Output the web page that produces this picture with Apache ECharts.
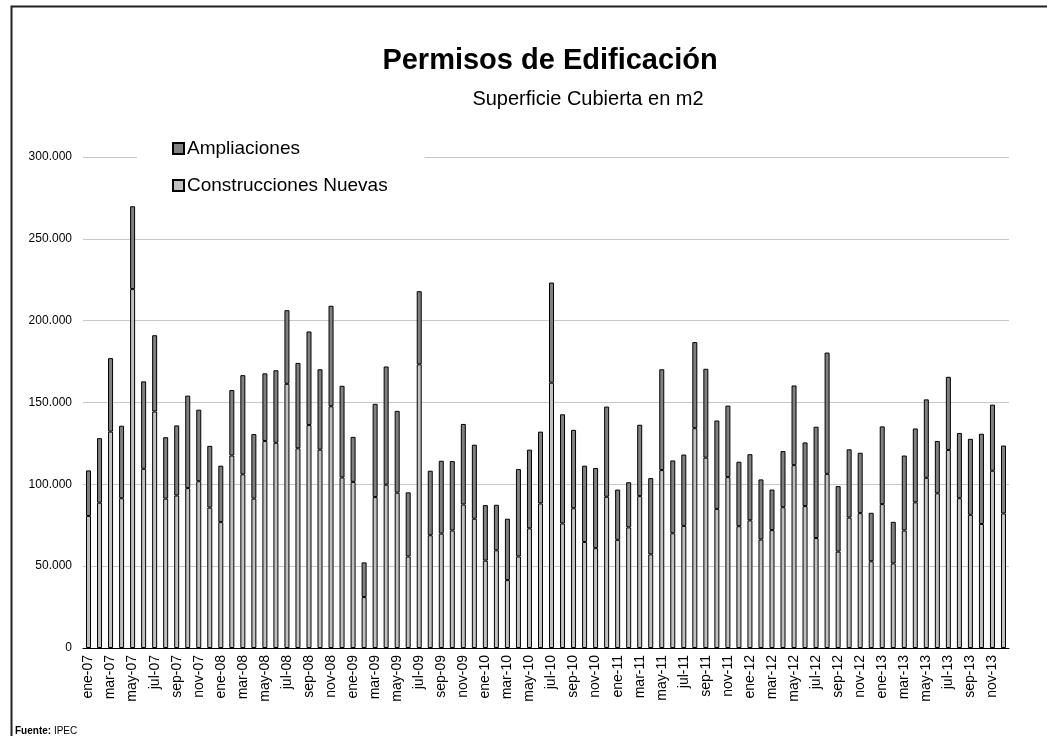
<!DOCTYPE html>
<html>
<head>
<meta charset="utf-8">
<script src="https://cdn.jsdelivr.net/npm/echarts@6/dist/echarts.min.js"></script>
<style>
  html, body { margin: 0; padding: 0; background: #fff; }
  #chart { width: 1047px; height: 736px; }
</style>
</head>
<body>
<div id="chart"></div>
<script>
// meses ene-07 .. dic-13
const meses = ['ene', 'feb', 'mar', 'abr', 'may', 'jun', 'jul', 'ago', 'sep', 'oct', 'nov', 'dic'];
const anios = ['07', '08', '09', '10', '11', '12', '13'];
const categorias = [];
anios.forEach(a => meses.forEach(m => categorias.push(m + '-' + a)));

// Construcciones Nuevas (m2)
const nuevas = [
  80700, 88800, 132200, 91500, 219300, 109500, 144500, 91300, 93200, 97700, 101900, 85800,
  76900, 117600, 106100, 91300, 126500, 125400, 161400, 122000, 136200, 121200, 147700, 104200,
  101500, 31100, 92200, 99800, 94900, 55900, 173300, 68900, 69900, 71800, 87700, 79000,
  53400, 59700, 41500, 55900, 73100, 88300, 162100, 76100, 85400, 64800, 61000, 92400,
  66100, 73700, 92800, 57200, 108700, 70100, 74600, 134300, 116300, 85000, 104400, 74400,
  78000, 66300, 72000, 86000, 111700, 86700, 67200, 106400, 58900, 79700, 82400, 53000,
  87900, 51700, 71800, 89000, 104000, 94500, 121000, 91500, 81400, 75800, 108300, 82200
];

// Ampliaciones (m2)
const ampliaciones = [
  27800, 39400, 44900, 44300, 50600, 53400, 46600, 37500, 42800, 56500, 43700, 37700,
  34500, 40000, 60600, 39400, 41300, 44300, 45000, 52200, 57200, 49100, 61400, 56000,
  27500, 21200, 57000, 72200, 50000, 39200, 44700, 39400, 44500, 42400, 49200, 45200,
  33900, 27800, 37500, 53400, 48100, 43900, 61200, 66700, 47900, 46600, 49000, 55100,
  30700, 27600, 43600, 46600, 61600, 44500, 43600, 52600, 54300, 54000, 43700, 39400,
  40400, 36700, 24800, 34300, 48700, 38900, 68000, 74100, 40000, 41700, 36900, 29600,
  47500, 25400, 45800, 45100, 47900, 32000, 44700, 39900, 46400, 55100, 40400, 41500
];

const fuente = 'Arial, "Liberation Sans", sans-serif';

const chart = echarts.init(document.getElementById('chart'));
chart.setOption({
  backgroundColor: '#fff',
  animation: false,
  textStyle: { fontFamily: fuente, color: '#000' },
  title: [
    {
      text: 'Permisos de Edificación',
      left: 545, top: 41, textAlign: 'center',
      textStyle: { fontSize: 29, fontWeight: 'bold', color: '#000', fontFamily: fuente }
    },
    {
      text: 'Superficie Cubierta en m2',
      left: 583, top: 84, textAlign: 'center',
      textStyle: { fontSize: 20, fontWeight: 'normal', color: '#000', fontFamily: fuente }
    },
    {
      text: '{b|Fuente:} IPEC',
      left: 10, top: 721,
      textStyle: {
        fontSize: 10, fontWeight: 'normal', color: '#000', fontFamily: fuente,
        rich: { b: { fontSize: 10, fontWeight: 'bold', fontFamily: fuente } }
      }
    }
  ],
  graphic: [
    {
      type: 'rect', left: 9, top: 4, z: 100, silent: true,
      shape: { width: 1100, height: 800 },
      style: { fill: 'none', stroke: '#222', lineWidth: 2 }
    }
  ],
  legend: {
    orient: 'vertical',
    left: 137, top: 131,
    padding: [8, 37, 8, 35],
    backgroundColor: '#fff',
    itemWidth: 11, itemHeight: 11, itemGap: 18,
    icon: 'rect',
    data: ['Ampliaciones', 'Construcciones Nuevas'],
    textStyle: { fontSize: 19, color: '#000', fontFamily: fuente, padding: [0, 0, 0, -2] }
  },
  grid: { left: 83, right: 38, top: 157, bottom: 88 },
  xAxis: {
    type: 'category',
    data: categorias,
    axisLine: { lineStyle: { color: '#000', width: 1 } },
    axisTick: { interval: 1, length: 5, lineStyle: { color: '#000' } },
    axisLabel: { interval: 1, rotate: 90, fontSize: 14, color: '#000', margin: 7, fontFamily: fuente }
  },
  yAxis: {
    type: 'value',
    min: 0, max: 300000, interval: 50000,
    axisLine: { show: false },
    axisTick: { show: false },
    splitLine: { lineStyle: { color: '#c8c8c8', width: 1 } },
    axisLabel: {
      fontSize: 12, color: '#000', margin: 11, fontFamily: fuente,
      formatter: v => String(v).replace(/\B(?=(\d{3})+(?!\d))/g, '.')
    }
  },
  series: [
    {
      name: 'Construcciones Nuevas',
      type: 'bar',
      stack: 'total',
      barWidth: 5,
      data: nuevas,
      itemStyle: { color: '#c0c0c0', borderColor: '#000', borderWidth: 1 }
    },
    {
      name: 'Ampliaciones',
      type: 'bar',
      stack: 'total',
      barWidth: 5,
      data: ampliaciones,
      itemStyle: { color: '#808080', borderColor: '#000', borderWidth: 1 }
    }
  ]
});
</script>
</body>
</html>
